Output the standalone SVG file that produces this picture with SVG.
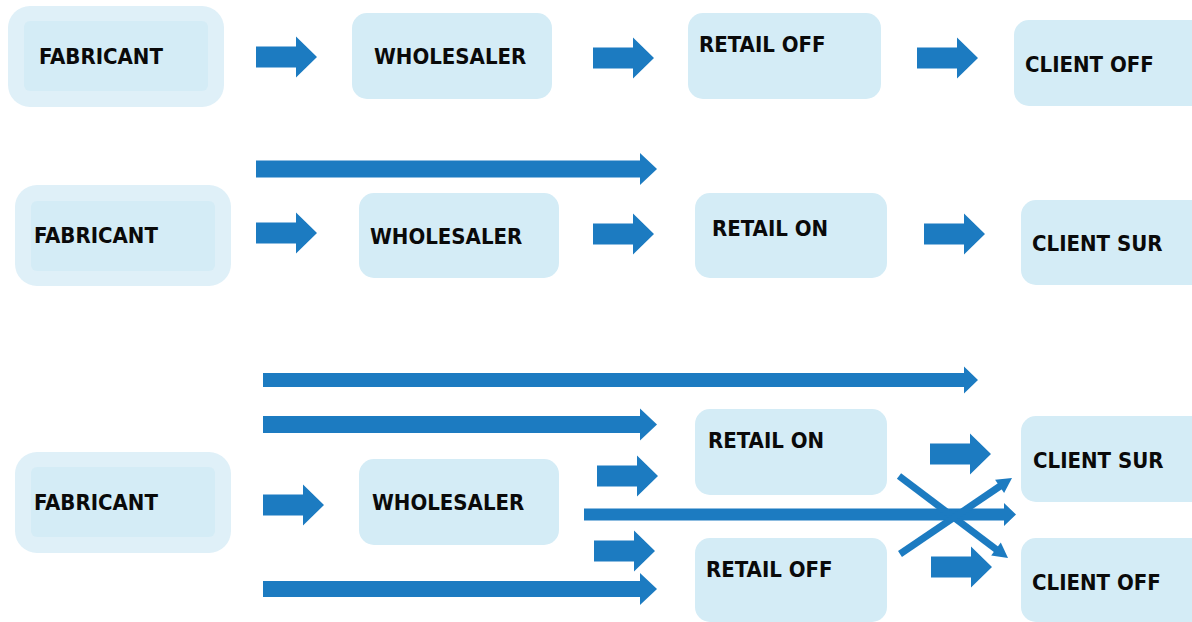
<svg xmlns="http://www.w3.org/2000/svg" xmlns:xlink="http://www.w3.org/1999/xlink" width="1192" height="622" viewBox="0 0 1192 622">
  <style>
    .box { fill: #d4ecf6; }
    .halo { fill: #dff0f8; }
    .lbl { font-family: "DejaVu Sans Condensed", "DejaVu Sans", "Liberation Sans", sans-serif; font-stretch: condensed; font-weight: bold; font-size: 22px; fill: #0a0a0a; }
    .arw { fill: #1c7bc1; }
    .diag { stroke: #1c7bc1; stroke-width: 7; fill: none; }
  </style>
  <defs>
    <!-- short block arrow, origin at left end of the shaft centre line -->
    <path id="blk" d="M0,-10.5 H40 V-20.5 L61,0 L40,20.5 V10.5 H0 Z"/>
  </defs>

  <rect width="1192" height="622" fill="#ffffff"/>

  <!-- Row 1: offline chain -->
  <g id="r1-fabricant">
    <rect class="halo" x="8" y="6" width="216" height="101" rx="22"/>
    <rect class="box" x="24" y="21" width="184" height="70" rx="6"/>
    <text class="lbl" x="39" y="64">FABRICANT</text>
  </g>
  <g id="r1-wholesaler">
    <rect class="box" x="352" y="13" width="200" height="86" rx="15"/>
    <text class="lbl" x="374" y="64">WHOLESALER</text>
  </g>
  <g id="r1-retail-off">
    <rect class="box" x="688" y="13" width="193" height="86" rx="15"/>
    <text class="lbl" x="699" y="52">RETAIL OFF</text>
  </g>
  <g id="r1-client-off">
    <rect class="box" x="1014" y="20" width="200" height="86" rx="15"/>
    <text class="lbl" x="1025" y="72">CLIENT OFF</text>
  </g>

  <!-- Row 2: online chain -->
  <g id="r2-fabricant">
    <rect class="halo" x="15" y="185" width="216" height="101" rx="22"/>
    <rect class="box" x="31" y="201" width="184" height="70" rx="6"/>
    <text class="lbl" x="34" y="243">FABRICANT</text>
  </g>
  <g id="r2-wholesaler">
    <rect class="box" x="359" y="193" width="200" height="85" rx="15"/>
    <text class="lbl" x="370" y="244">WHOLESALER</text>
  </g>
  <g id="r2-retail-on">
    <rect class="box" x="695" y="193" width="192" height="85" rx="15"/>
    <text class="lbl" x="712" y="236">RETAIL ON</text>
  </g>
  <g id="r2-client-sur">
    <rect class="box" x="1021" y="200" width="200" height="85" rx="15"/>
    <text class="lbl" x="1032" y="251">CLIENT SUR</text>
  </g>

  <!-- Row 3: mixed channels -->
  <g id="r3-fabricant">
    <rect class="halo" x="15" y="452" width="216" height="101" rx="22"/>
    <rect class="box" x="31" y="467" width="184" height="70" rx="6"/>
    <text class="lbl" x="34" y="510">FABRICANT</text>
  </g>
  <g id="r3-wholesaler">
    <rect class="box" x="359" y="459" width="200" height="86" rx="15"/>
    <text class="lbl" x="372" y="510">WHOLESALER</text>
  </g>
  <g id="r3-retail-on">
    <rect class="box" x="695" y="409" width="192" height="86" rx="15"/>
    <text class="lbl" x="708" y="448">RETAIL ON</text>
  </g>
  <g id="r3-retail-off">
    <rect class="box" x="695" y="538" width="192" height="84" rx="15"/>
    <text class="lbl" x="706" y="577">RETAIL OFF</text>
  </g>
  <g id="r3-client-sur">
    <rect class="box" x="1021" y="416" width="200" height="86" rx="15"/>
    <text class="lbl" x="1033" y="468">CLIENT SUR</text>
  </g>
  <g id="r3-client-off">
    <rect class="box" x="1021" y="538" width="200" height="84" rx="15"/>
    <text class="lbl" x="1032" y="590">CLIENT OFF</text>
  </g>

  <!-- Connectors -->
  <g id="connectors" class="arw">
    <!-- row 1 -->
    <use xlink:href="#blk" href="#blk" x="256" y="57"/>
    <use xlink:href="#blk" href="#blk" x="593" y="58"/>
    <use xlink:href="#blk" href="#blk" x="917" y="58"/>

    <!-- row 2 -->
    <path d="M256,160.5 H640 V153 L657,169 L640,185 V177.5 H256 Z"/>
    <use xlink:href="#blk" href="#blk" x="256" y="233"/>
    <use xlink:href="#blk" href="#blk" x="593" y="234"/>
    <use xlink:href="#blk" href="#blk" x="924" y="234"/>

    <!-- row 3 -->
    <path d="M263,373 H964 V366.5 L978,380 L964,393.5 V387 H263 Z"/>
    <path d="M263,416 H640 V408.5 L657,424.5 L640,440.5 V433 H263 Z"/>
    <path d="M263,581 H640 V573 L657,589 L640,605 V597 H263 Z"/>
    <use xlink:href="#blk" href="#blk" x="263" y="505"/>
    <use xlink:href="#blk" href="#blk" x="597" y="476"/>
    <use xlink:href="#blk" href="#blk" x="594" y="551"/>
    <use xlink:href="#blk" href="#blk" x="930" y="454"/>
    <use xlink:href="#blk" href="#blk" x="931" y="567"/>
    <path d="M584,508.5 H1004 V503 L1016,514.5 L1004,526 V520.5 H584 Z"/>

    <!-- crossing diagonals -->
    <line class="diag" x1="899" y1="476" x2="997" y2="550"/>
    <polygon points="1008,558 991.2,555.4 1000.8,542.6"/>
    <line class="diag" x1="900" y1="554" x2="1001" y2="485.5"/>
    <polygon points="1012,478 1004.1,493 995.1,479.8"/>
  </g>
</svg>
